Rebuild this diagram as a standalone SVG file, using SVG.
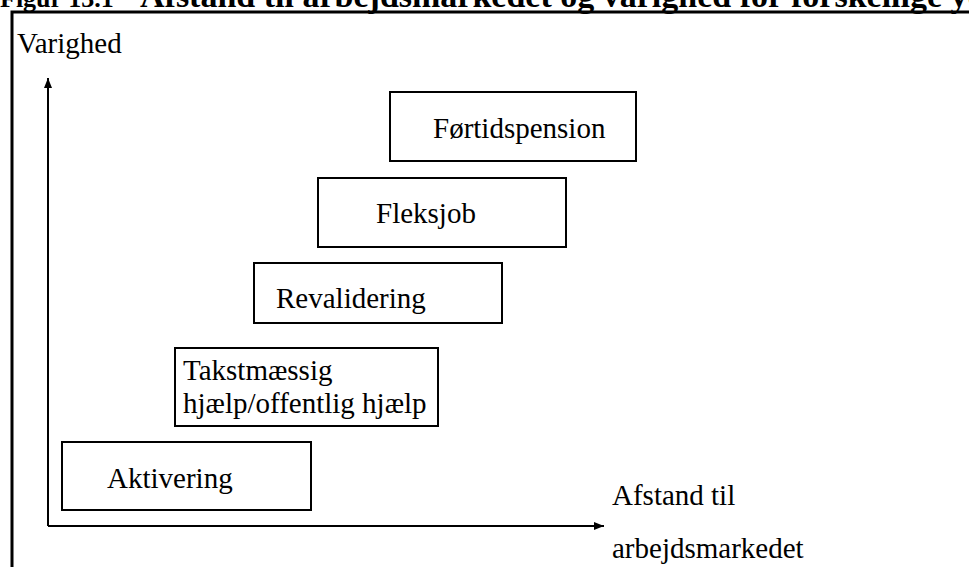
<svg xmlns="http://www.w3.org/2000/svg" width="969" height="567" viewBox="0 0 969 567">
<style>
  text { font-family: "Liberation Serif", "Times New Roman", serif; font-size: 29px; fill: #000; }
  .title { font-weight: bold; font-size: 34px; }
  .fig { font-weight: bold; font-size: 26px; }
  .box { fill: #fff; stroke: #000; stroke-width: 2; }
  .axis { stroke: #000; stroke-width: 2; fill: none; }
  .frame { stroke: #000; stroke-width: 3; fill: none; }
</style>
<defs>
  <marker id="arrow" viewBox="0 0 10 8" refX="10" refY="4" markerWidth="10" markerHeight="8" markerUnits="userSpaceOnUse" orient="auto">
    <path d="M0,0 L10,4 L0,8 Z" fill="#000"/>
  </marker>
</defs>
<rect width="969" height="567" fill="#fff"/>
<text class="fig" x="0" y="7">Figur 13.1</text>
<text class="title" x="140" y="7">Afstand til arbejdsmarkedet og varighed for forskellige ydelser</text>
<path class="frame" d="M12,567 V12 H969"/>
<text x="17" y="53">Varighed</text>
<g id="connectors">
  <line class="axis" x1="48" y1="526" x2="48" y2="78" marker-end="url(#arrow)"/>
  <line class="axis" x1="48" y1="526" x2="604" y2="526" marker-end="url(#arrow)"/>
</g>
<text x="612" y="505">Afstand til</text>
<text x="612" y="558">arbejdsmarkedet</text>
<g id="aktivering">
  <rect class="box" x="62" y="442" width="249" height="68"/>
  <text x="107" y="488">Aktivering</text>
</g>
<g id="takstmaessig">
  <rect class="box" x="175" y="348" width="263" height="78"/>
  <text x="183" y="380">Takstmæssig</text>
  <text x="183" y="413">hjælp/offentlig hjælp</text>
</g>
<g id="revalidering">
  <rect class="box" x="254" y="263" width="248" height="60"/>
  <text x="276" y="308">Revalidering</text>
</g>
<g id="fleksjob">
  <rect class="box" x="318" y="178" width="248" height="69"/>
  <text x="376" y="223">Fleksjob</text>
</g>
<g id="fortidspension">
  <rect class="box" x="390" y="92" width="246" height="69"/>
  <text x="433" y="138">Førtidspension</text>
</g>
</svg>
